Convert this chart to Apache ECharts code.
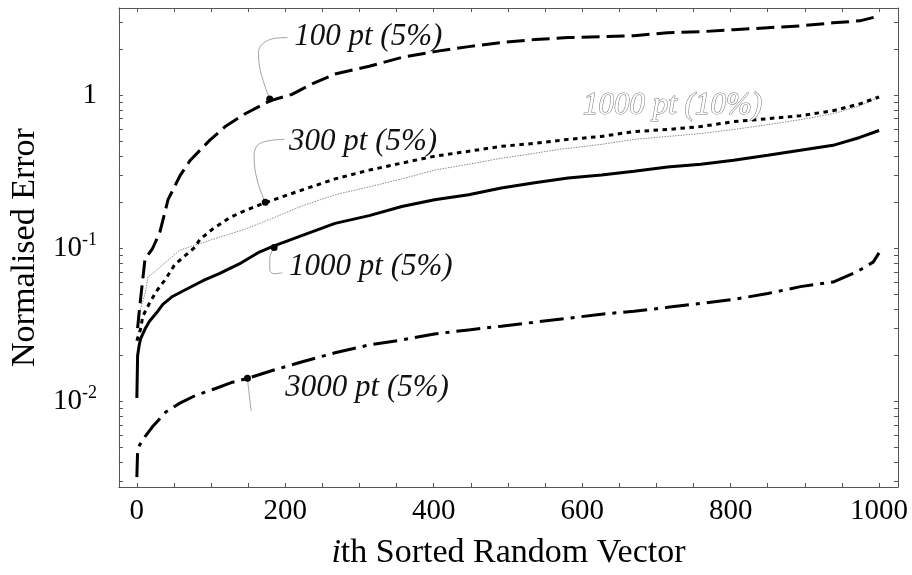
<!DOCTYPE html>
<html><head><meta charset="utf-8">
<script src="https://cdn.jsdelivr.net/npm/echarts@6/dist/echarts.min.js"></script>
<style>html,body{margin:0;padding:0;background:#fff}#c{width:912px;height:575px}</style>
</head><body><div id="c"></div>
<script>
// ---- data ----
const xTickLabels = [0, 200, 400, 600, 800, 1000];
const xMinorTicks = [0, 50, 100, 150, 200, 250, 300, 350, 400, 450, 500, 550, 600, 650, 700, 750, 800, 850, 900, 950, 1000];
const yLabelValues = [0.01, 0.1, 1];

const pt100X = [1,4,11,21,31,42,58,72,98,119,146,179,209,236,267,313,357,401,447,491,536,581,626,670,715,760,804,850,894,938,974,1000];
const pt100Y = [0.03,0.042,0.085,0.099,0.127,0.207,0.296,0.375,0.505,0.622,0.754,0.915,1.01,1.18,1.37,1.54,1.76,1.92,2.07,2.20,2.30,2.37,2.40,2.44,2.55,2.59,2.67,2.75,2.83,2.96,3.05,3.28];

const pt300X = [0,5,8,17,26,39,51,78,85,102,125,146,173,223,267,313,357,401,447,491,536,581,626,670,715,760,804,850,894,938,974,1000];
const pt300Y = [0.0248,0.0296,0.0359,0.0436,0.052,0.063,0.078,0.101,0.114,0.133,0.158,0.176,0.198,0.240,0.283,0.323,0.359,0.398,0.429,0.462,0.483,0.513,0.536,0.577,0.595,0.622,0.670,0.700,0.732,0.789,0.875,0.97];

const pt1000pc10X = [0,5,11,15,21,39,58,72,102,146,179,223,267,313,357,401,447,491,536,568,626,670,715,760,804,850,894,938,974,1000];
const pt1000pc10Y = [0.03,0.0404,0.05,0.065,0.068,0.081,0.097,0.102,0.114,0.133,0.154,0.189,0.223,0.251,0.283,0.323,0.353,0.386,0.416,0.441,0.476,0.513,0.536,0.560,0.595,0.640,0.690,0.754,0.849,0.97];

const pt1000X = [0,1,3,5,11,17,26,35,48,66,89,111,138,165,184,223,267,313,357,401,447,491,536,581,626,670,715,760,804,850,894,938,974,1000];
const pt1000Y = [0.0105,0.0198,0.023,0.0255,0.0296,0.0333,0.0375,0.0429,0.0483,0.0536,0.0612,0.068,0.0788,0.0942,0.103,0.121,0.145,0.163,0.187,0.207,0.223,0.247,0.267,0.287,0.300,0.318,0.338,0.353,0.375,0.404,0.435,0.469,0.528,0.586];

const pt3000X = [0,1,4,11,21,39,58,79,106,129,149,187,223,267,313,357,401,447,491,536,581,626,670,715,760,804,850,894,938,970,992,1000];
const pt3000Y = [0.00319,0.00469,0.0052,0.00586,0.0068,0.00849,0.00971,0.0109,0.0121,0.0133,0.0141,0.0161,0.0181,0.0207,0.0233,0.0251,0.0275,0.0292,0.0309,0.0328,0.0348,0.037,0.0387,0.041,0.0435,0.0462,0.0505,0.056,0.060,0.070,0.081,0.093];

// annotation labels
const labelTexts = ['100 pt (5%)', '300 pt (5%)', '1000 pt (10%)', '1000 pt (5%)', '3000 pt (5%)'];

// ---- annotation geometry (data coordinates) ----
const labelAnchors = [[212, 2.40], [205, 0.497], [601, 0.849], [205, 0.0754], [200, 0.0123]];
const leaderPaths = [
  [[203, 2.37], [183, 2.33], [164, 1.92], [166, 1.47], [179, 0.94]],
  [[199, 0.513], [166, 0.483], [158, 0.398], [162, 0.279], [173, 0.199]],
  null,
  [[185, 0.101], [179, 0.085], [179, 0.0721], [185, 0.068], [196, 0.069]],
  [[149, 0.0141], [151, 0.0115], [154, 0.0086]]
];
const leaderDots = [[179, 0.94], [173, 0.199], null, [185, 0.101], [149, 0.0141]];

// ---- layout / style ----
const XMIN = -24.2, XMAX = 1025.5, YMIN = 0.00275, YMAX = 3.70;
const SERIF = '"Liberation Serif", "DejaVu Serif", serif';
const AXC = '#555';
const pairs = (xs, ys) => xs.map((x, i) => [x, ys[i]]);
function logTickPositions() {
  const out = [];
  for (let e = -3; e <= 0; e++) for (let k = 1; k <= 9; k++) {
    const v = k * Math.pow(10, e);
    if (v >= YMIN && v <= YMAX) out.push(Math.log10(v));
  }
  return out;
}
const LT = logTickPositions();

const labelStyle = {fontFamily: SERIF, fontStyle: 'italic', fontSize: 31, color: '#111'};
function annot(i, hollow) {
  const mp = [{
    coord: labelAnchors[i], symbol: 'circle', symbolSize: 0.1, itemStyle: {color: 'rgba(0,0,0,0)'},
    label: Object.assign({show: true, position: 'right', distance: 0, formatter: labelTexts[i]}, labelStyle,
      hollow ? {color: '#fff', textBorderColor: '#7a7a7a', textBorderWidth: 1.1} : {})
  }];
  if (leaderDots[i]) {
    mp.push({coord: leaderDots[i], symbol: 'circle', symbolSize: 7, itemStyle: {color: '#000'}, label: {show: false}});
  }
  return {markPoint: {silent: true, animation: false, data: mp}};
}

function lineSeries(name, xs, ys, style, extra) {
  return Object.assign({
    name, type: 'line', data: pairs(xs, ys), showSymbol: false, smooth: false,
    xAxisIndex: 0, yAxisIndex: 0, lineStyle: style, emphasis: {disabled: true}, animation: false, z: 3
  }, extra);
}

const leaderSeries = leaderPaths.filter(p => p).map(p => ({
  type: 'line', data: p, showSymbol: false, smooth: 0.4, silent: true, z: 1,
  xAxisIndex: 0, yAxisIndex: 0, animation: false, emphasis: {disabled: true},
  lineStyle: {color: '#8a8a8a', width: 0.8}
}));

const option = {
  animation: false,
  grid: {left: 116, right: 14, top: 8, bottom: 82, containLabel: false},
  xAxis: [{
    type: 'value', position: 'bottom', min: XMIN, max: XMAX,
    axisLine: {show: true, onZero: false, lineStyle: {color: AXC, width: 1}},
    axisTick: {show: true, inside: true, length: 4, customValues: xMinorTicks, lineStyle: {color: AXC}},
    axisLabel: {customValues: xTickLabels, formatter: v => String(v), fontFamily: SERIF, fontSize: 29, color: '#000', margin: 10},
    splitLine: {show: false},
    name: '{i|i}th Sorted Random Vector', nameLocation: 'middle', nameGap: 49,
    nameTextStyle: {fontFamily: SERIF, fontSize: 34, color: '#000',
      rich: {i: {fontFamily: SERIF, fontSize: 34, fontStyle: 'italic', color: '#000'}}}
  }, {
    type: 'value', position: 'top', min: XMIN, max: XMAX,
    axisLine: {show: true, onZero: false, lineStyle: {color: AXC, width: 1}},
    axisTick: {show: true, inside: true, length: 4, customValues: xMinorTicks, lineStyle: {color: AXC}},
    axisLabel: {show: false}, splitLine: {show: false}
  }],
  yAxis: [{
    type: 'log', logBase: 10, min: YMIN, max: YMAX, position: 'left',
    axisLine: {show: true, onZero: false, lineStyle: {color: AXC, width: 1}},
    axisTick: {show: false}, splitLine: {show: false}, minorTick: {show: false},
    axisLabel: {
      margin: 22, color: '#000', fontFamily: SERIF, fontSize: 29,
      formatter: v => {
        const e = Math.log10(v);
        if (Math.abs(e - Math.round(e)) > 1e-6) return '';
        const r = Math.round(e);
        if (!yLabelValues.some(t => Math.abs(Math.log10(t) - r) < 1e-6)) return '';
        return r === 0 ? '{b|1}' : '{b|10}{s|' + r + '}';
      },
      rich: {b: {fontFamily: SERIF, fontSize: 29, color: '#000', lineHeight: 34},
             s: {fontFamily: SERIF, fontSize: 18, color: '#000', verticalAlign: 'top'}}
    },
    name: 'Normalised Error', nameLocation: 'middle', nameGap: 76,
    nameTextStyle: {fontFamily: SERIF, fontSize: 34, color: '#000'}
  }, {
    type: 'value', min: Math.log10(YMIN), max: Math.log10(YMAX), position: 'left',
    axisLine: {show: false, onZero: false},
    axisTick: {show: true, inside: true, length: 4, customValues: LT, lineStyle: {color: AXC}},
    axisLabel: {show: false}, splitLine: {show: false}
  }, {
    type: 'value', min: Math.log10(YMIN), max: Math.log10(YMAX), position: 'right',
    axisLine: {show: true, onZero: false, lineStyle: {color: AXC, width: 1}},
    axisTick: {show: true, inside: true, length: 4, customValues: LT, lineStyle: {color: AXC}},
    axisLabel: {show: false}, splitLine: {show: false}
  }],
  series: [
    lineSeries('1000 pt (10%)', pt1000pc10X, pt1000pc10Y, {color: '#8a8a8a', width: 1, type: [1.5, 1.2]},
      Object.assign(annot(2, true), {z: 2})),
    lineSeries('100 pt (5%)', pt100X, pt100Y, {color: '#000', width: 3, type: [18, 7], cap: 'butt'}, annot(0)),
    lineSeries('300 pt (5%)', pt300X, pt300Y, {color: '#000', width: 3, type: [4.5, 4.5], cap: 'butt'}, annot(1)),
    lineSeries('1000 pt (5%)', pt1000X, pt1000Y, {color: '#000', width: 3, type: 'solid'}, annot(3)),
    lineSeries('3000 pt (5%)', pt3000X, pt3000Y, {color: '#000', width: 3, type: [24, 7, 4, 7], cap: 'butt'}, annot(4))
  ].concat(leaderSeries)
};
const chart = echarts.init(document.getElementById('c'), null, {renderer: 'canvas'});
chart.setOption(option);
</script></body></html>
